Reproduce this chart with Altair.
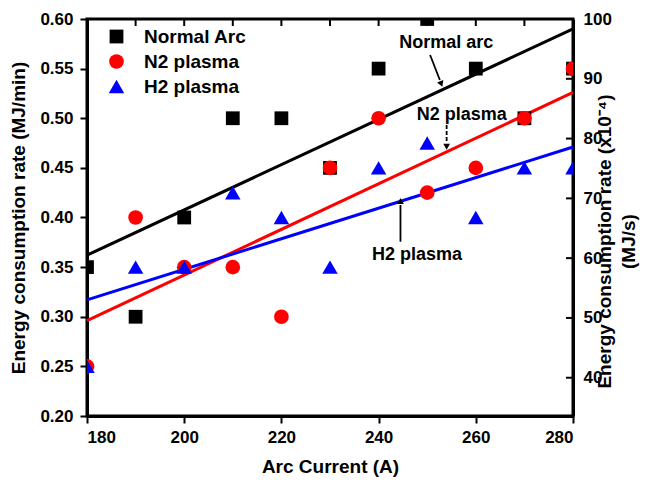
import altair as alt
import pandas as pd

# ---------------- data ----------------
currents = [180, 190, 200, 210, 220, 230, 240, 250, 260, 270, 280]
normal_arc = [0.35, 0.30, 0.40, 0.50, 0.50, 0.45, 0.55, 0.60, 0.55, 0.50, 0.55]
n2_plasma = [0.25, 0.40, 0.35, 0.35, 0.30, 0.45, 0.50, 0.425, 0.45, 0.50, 0.55]
h2_plasma = [0.25, 0.35, 0.35, 0.425, 0.40, 0.35, 0.45, 0.475, 0.40, 0.45, 0.45]

series = ["Normal Arc", "N2 plasma", "H2 plasma"]
colors = ["#000000", "#ff0000", "#0000ff"]

fit_x = [180, 280]
normal_fit = [0.362, 0.590]
n2_fit = [0.296, 0.526]
h2_fit = [0.317, 0.471]

ann_text = ["Normal arc", "N2 plasma", "H2 plasma"]
ann_x = [253.9, 257.1, 247.9]
ann_y = [0.576, 0.503, 0.362]
arrow_x0 = [250.6, 254.0, 244.5]
arrow_y0 = [0.5637, 0.4932, 0.3756]
arrow_x1 = [252.6, 254.0, 244.5]
arrow_y1 = [0.5385, 0.4753, 0.4126]
arrow_dashed = [False, True, False]
head_x = [252.9, 254.0, 244.5]
head_y = [0.5345, 0.4713, 0.4166]
head_angle = [158, 180, 0]

x_ticks = [180, 200, 220, 240, 260, 280]
top_ticks = [190, 200, 210, 220, 230, 240, 250, 260, 270]
y_ticks = [0.20, 0.25, 0.30, 0.35, 0.40, 0.45, 0.50, 0.55, 0.60]
right_ticks = [40, 50, 60, 70, 80, 90, 100]

# ---------------- tables ----------------
rows = []
for name, vals in zip(series, [normal_arc, n2_plasma, h2_plasma]):
    for c, v in zip(currents, vals):
        rows.append({"current": c, "value": v, "series": name})
df = pd.DataFrame(rows)

ann_df = pd.DataFrame({"text": ann_text, "x": ann_x, "y": ann_y})
arrow_df = pd.DataFrame({"x0": arrow_x0, "y0": arrow_y0, "x1": arrow_x1, "y1": arrow_y1,
                         "dashed": arrow_dashed})
head_df = pd.DataFrame({"x": head_x, "y": head_y, "ang": head_angle})
top_df = pd.DataFrame({"t": top_ticks})
right_df = pd.DataFrame({"v": right_ticks})

W, H = 486, 397
FONT = "Liberation Sans"

xscale = alt.Scale(domain=[180, 280], nice=False, zero=False)
yscale = alt.Scale(domain=[0.2, 0.6], nice=False, zero=False)
xaxis = alt.Axis(values=x_ticks, title="Arc Current (A)", format="d", tickSize=7,
                 labelPadding=6, grid=False, titleY=50, titleBaseline="middle")
yaxis = alt.Axis(values=y_ticks, title="Energy consumption rate (MJ/min)", format=".2f",
                 tickSize=7, labelPadding=7, grid=False, titleX=-69, titleY=H / 2,
                 titleAngle=270, titleAlign="center", titleBaseline="middle")


def X(f):
    return alt.X(f, type="quantitative", scale=xscale, axis=xaxis)


def Y(f):
    return alt.Y(f, type="quantitative", scale=yscale, axis=yaxis)


fit_layers = []
for vals, col in zip([normal_fit, n2_fit, h2_fit], colors):
    fdf = pd.DataFrame({"current": fit_x, "value": vals})
    fit_layers.append(alt.Chart(fdf).mark_line(strokeWidth=3, color=col).encode(
        x=X("current"), y=Y("value")))

legend = alt.Legend(title=None, orient="none", legendX=20, legendY=8,
                    labelFontSize=19, labelFont=FONT, labelFontWeight="bold",
                    labelColor="black", rowPadding=5, labelOffset=18, padding=0,
                    symbolStrokeWidth=0, symbolOpacity=1)

points = alt.Chart(df).mark_point(filled=True, opacity=1, strokeWidth=0, clip=True).encode(
    x=X("current"), y=Y("value"),
    color=alt.Color("series:N", scale=alt.Scale(domain=series, range=colors), legend=legend),
    shape=alt.Shape("series:N", scale=alt.Scale(domain=series, range=["square", "circle", "triangle-up"]),
                    legend=legend),
    size=alt.Size("series:N", scale=alt.Scale(domain=series, range=[190, 240, 324]), legend=legend),
)

solid_arrows = alt.Chart(arrow_df).transform_filter("!datum.dashed").mark_rule(
    color="black", strokeWidth=1.8).encode(x=X("x0"), y=Y("y0"), x2="x1", y2="y1")
dashed_arrows = alt.Chart(arrow_df).transform_filter("datum.dashed").mark_rule(
    color="black", strokeWidth=1.8, strokeDash=[4, 2]).encode(x=X("x0"), y=Y("y0"), x2="x1", y2="y1")

heads = alt.Chart(head_df).mark_point(shape="triangle-up", filled=True, color="black",
                                      opacity=1, size=45, strokeWidth=0).encode(
    x=X("x"), y=Y("y"), angle=alt.Angle("ang:Q", scale=None, legend=None),
)

labels = alt.Chart(ann_df).mark_text(font=FONT, fontSize=18, fontWeight="bold", color="black",
                                     align="center", baseline="middle").encode(
    x=X("x"), y=Y("y"), text="text:N",
)

top_tick_marks = alt.Chart(top_df).mark_rule(color="black", strokeWidth=2).encode(
    x=X("t"), y=alt.value(0), y2=alt.value(7),
)

left = alt.layer(*fit_layers, points, solid_arrows, dashed_arrows, heads, labels, top_tick_marks)

right = alt.Chart(right_df).mark_rule(color="black", strokeWidth=2).encode(
    y=alt.Y("v:Q", scale=alt.Scale(domain=[33.6, 100], nice=False, zero=False),
            axis=alt.Axis(orient="right", values=right_ticks, ticks=False, labelPadding=10,
                          grid=False, format="d",
                          title=["Energy consumption rate (x10\u207b\u2074)", "(MJ/s)"],
                          titleAngle=270, titleX=22, titleY=222, titleAlign="center",
                          titleBaseline="top", titleLineHeight=24)),
    x=alt.value(W - 7), x2=alt.value(W),
)

chart = alt.layer(left, right).resolve_scale(y="independent").properties(
    width=W, height=H,
    padding={"left": 79, "top": 11, "right": 67, "bottom": 62},
    autosize=alt.AutoSizeParams(type="none"),
).configure_view(stroke="black", strokeWidth=3).configure_axis(
    labelFont=FONT, labelFontSize=17, labelFontWeight="bold", labelColor="black",
    titleFont=FONT, titleFontSize=19, titleFontWeight="bold", titleColor="black",
    domainColor="black", domainWidth=3, tickColor="black", tickWidth=2,
).configure_legend(labelFont=FONT)

chart.save("out.html", embed_options={"renderer": "svg", "actions": False})
